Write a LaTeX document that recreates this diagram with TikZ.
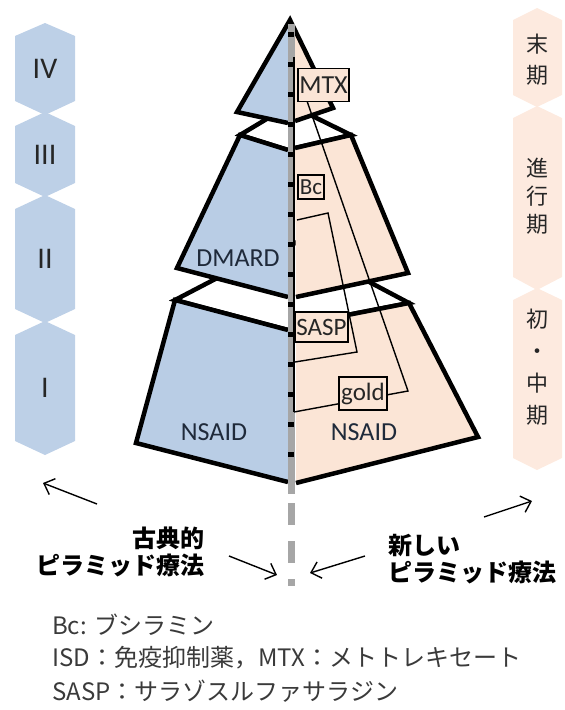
\documentclass[tikz,border=0pt]{standalone}
\usepackage{fontspec}
\setmainfont{Carlito}
\newfontfamily\cjk{Noto Sans CJK JP}
\usetikzlibrary{arrows.meta}
\definecolor{pblue}{HTML}{B9CDE5}
\definecolor{ppeach}{HTML}{FBE5D6}
\definecolor{cblue}{HTML}{BDD0E7}
\definecolor{cpeach}{HTML}{FDEADF}
\definecolor{labtxt}{HTML}{1F2A3A}
\definecolor{coltxt}{HTML}{262626}
\definecolor{bargray}{HTML}{A6A6A6}
\definecolor{legtxt}{HTML}{3A3A3A}
\begin{document}
\begin{tikzpicture}[x=1pt,y=-1pt,
  edge/.style={line width=4.5pt, line join=miter, line cap=butt},
  thinl/.style={line width=1.4pt},
  tag/.style={draw, line width=1.4pt, fill=ppeach, inner sep=0pt, text=coltxt},
  lab/.style={font=\fontsize{26}{26}\selectfont, text=labtxt},
  roman/.style={font=\fontsize{30}{30}\selectfont, text=coltxt},
  stagetxt/.style={font=\cjk\fontsize{22}{31}\selectfont, text=coltxt, align=center},
  arr/.style={line width=1.4pt, -{Straight Barb[length=9pt,width=17pt]}},
  bigjp/.style={font=\cjk\bfseries\fontsize{24}{27}\selectfont, text=black},
  legend/.style={font=\cjk\fontsize{24}{24}\selectfont, text=legtxt, anchor=west, inner sep=0pt},
]
\useasboundingbox (0,0) rectangle (565,710);

% left column (stages)
\fill[cblue] (45,23)--(75,36)--(75,101)--(45,115)--(15,101)--(15,36)--cycle;
\fill[cblue] (45,112)--(75,126)--(75,183)--(45,197)--(15,183)--(15,126)--cycle;
\fill[cblue] (45,195)--(75,209)--(75,309)--(45,323)--(15,309)--(15,209)--cycle;
\fill[cblue] (45,321)--(75,335)--(75,441)--(45,455)--(15,441)--(15,335)--cycle;
\node[roman] (s4) at (45,69) {IV};
\node[roman] (s3) at (45,155) {III};
\node[roman] (s2) at (45,259) {II};
\node[roman] (s1) at (45,388) {I};

% right column (periods)
\fill[cpeach] (537,8)--(562,20)--(562,95)--(537,107)--(513,95)--(513,20)--cycle;
\fill[cpeach] (537,106)--(562,118)--(562,277)--(537,290)--(513,277)--(513,118)--cycle;
\fill[cpeach] (537,288)--(562,300)--(562,458)--(537,470)--(513,458)--(513,300)--cycle;
\node[stagetxt] (p3) at (537,60) {末\\期};
\node[stagetxt, font=\cjk\fontsize{22}{28}\selectfont] (p2) at (537,196) {進\\行\\期};
\node[stagetxt, font=\cjk\fontsize{22}{32}\selectfont] (p1) at (537,367) {初\\・\\中\\期};

% tier 3 (bottom)
\filldraw[fill=white, edge] (175,300)--(290,240)--(409,303)--(296,325)--(288,330)--cycle;
\fill[pblue] (175,300)--(288,330)--(288,482)--(136,443)--cycle;
\draw[edge] (288,330)--(175,300)--(136,443)--(288,482);
\fill[ppeach] (296,325)--(409,303)--(478,437)--(296,483)--cycle;
\draw[edge] (296,325)--(409,303)--(478,437)--(296,483);

% tier 2
\filldraw[fill=white, edge] (240,135)--(290,105)--(351,135)--(295,148)--(288,150)--cycle;
\fill[pblue] (240,135)--(288,150)--(288,297)--(177,268)--cycle;
\draw[edge] (288,150)--(240,135)--(177,268)--(288,297);
\fill[ppeach] (295,148)--(351,135)--(408,273)--(296,297)--cycle;
\draw[edge] (295,148)--(351,135)--(408,273)--(296,297);

% tier 1 (top)
\fill[pblue] (290,20)--(237,112)--(288,123)--cycle;
\fill[ppeach] (290,20)--(333,108)--(295,121)--cycle;
\draw[edge] (288,123)--(237,112)--(290,20)--(333,108)--(295,121);

% centre bar
\coordinate (ctop) at (291,24);
\coordinate (cbot) at (291,494);
\coordinate (dtop) at (291,503);
\coordinate (dbot) at (291,586);
\draw[bargray, line width=7pt] (ctop)--(cbot);
\draw[bargray, line width=7pt, dash pattern=on 22pt off 16pt] (dtop)--(dbot);
\coordinate (btop) at (291,32);
\coordinate (bbot) at (291,475);
\draw[black, line width=6pt, dash pattern=on 5pt off 25pt] (btop)--(bbot);

% thin lines
\coordinate (v1) at (294,57);
\coordinate (v2) at (294,412);
\draw[thinl] (v1)--(v2);
\coordinate (m0) at (307,101);
\coordinate (m1) at (408,391);
\draw[thinl] (v2)--(m1)--(m0);
\coordinate (b0) at (297,220);
\coordinate (b1) at (328,213);
\coordinate (b2) at (357,352);
\coordinate (b3) at (295,362);
\draw[thinl] (b0)--(b1)--(b2)--(b3);

% tags
\node[tag, minimum width=51pt, minimum height=33pt, font=\fontsize{26}{26}\selectfont] (mtx) at (323.5,85) {MTX};
\node[tag, minimum width=26pt, minimum height=24pt, font=\fontsize{23}{23}\selectfont] (bc) at (311,187) {Bc};
\node[tag, minimum width=53pt, minimum height=30pt, font=\fontsize{25}{25}\selectfont] (sasp) at (321.5,327) {SASP};
\node[tag, minimum width=48pt, minimum height=33pt, font=\fontsize{25}{25}\selectfont] (gold) at (363,393.5) {gold};

% face labels
\node[lab] (dmard) at (238,258) {DMARD};
\node[lab] (nsl) at (214,432) {NSAID};
\node[lab] (nsr) at (364,432) {NSAID};

% bottom labels and arrows
\node[bigjp, anchor=east, align=right] (classic) at (208,552) {古典的\\ピラミッド療法};
\node[bigjp, anchor=west, align=left] (newp) at (385,559) {新しい\\ピラミッド療法};
\coordinate (a1s) at (97,504);  \coordinate (a1e) at (43,483);
\coordinate (a2s) at (484,517); \coordinate (a2e) at (532,501);
\coordinate (a3s) at (229,556); \coordinate (a3e) at (277,575);
\coordinate (a4s) at (365,556); \coordinate (a4e) at (310,573);
\draw[arr] (a1s)--(a1e);
\draw[arr] (a2s)--(a2e);
\draw[arr] (a3s)--(a3e);
\draw[arr] (a4s)--(a4e);

% legend
\node[legend] (l1) at (52,625) {Bc: ブシラミン};
\node[legend] (l2) at (52,658) {ISD：免疫抑制薬，MTX：メトトレキセート};
\node[legend] (l3) at (52,691) {SASP：サラゾスルファサラジン};
\end{tikzpicture}
\end{document}
